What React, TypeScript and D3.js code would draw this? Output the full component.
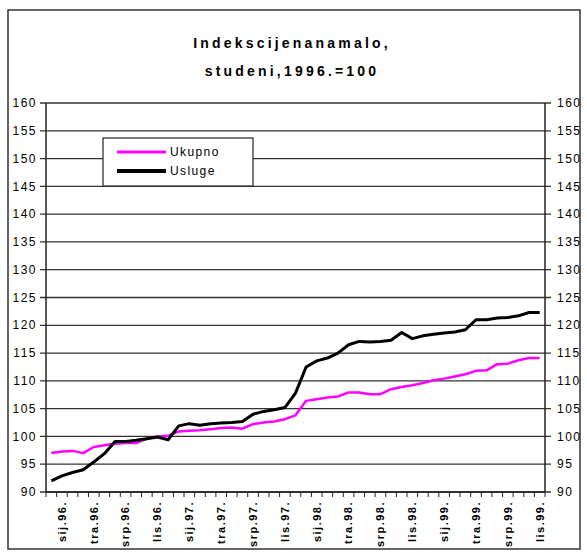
import * as d3 from "d3";

// Mjeseci (kategorije na osi X), prosinac 1995. – listopad 1999.
const MJESECI = [
  "pro.95.",
  "sij.96.", "velj.96.", "ožu.96.", "tra.96.", "svi.96.", "lip.96.", "srp.96.", "kol.96.", "ruj.96.", "lis.96.", "stu.96.", "pro.96.",
  "sij.97.", "velj.97.", "ožu.97.", "tra.97.", "svi.97.", "lip.97.", "srp.97.", "kol.97.", "ruj.97.", "lis.97.", "stu.97.", "pro.97.",
  "sij.98.", "velj.98.", "ožu.98.", "tra.98.", "svi.98.", "lip.98.", "srp.98.", "kol.98.", "ruj.98.", "lis.98.", "stu.98.", "pro.98.",
  "sij.99.", "velj.99.", "ožu.99.", "tra.99.", "svi.99.", "lip.99.", "srp.99.", "kol.99.", "ruj.99.", "lis.99.",
];

// Oznake koje se prikazuju na osi X
const OZNAKE_X = [
  "sij.96.", "tra.96.", "srp.96.", "lis.96.",
  "sij.97.", "tra.97.", "srp.97.", "lis.97.",
  "sij.98.", "tra.98.", "srp.98.", "lis.98.",
  "sij.99.", "tra.99.", "srp.99.", "lis.99.",
];

const UKUPNO = [
  97.0, 97.3, 97.4, 97.0, 98.1, 98.4, 98.7, 98.8, 98.8, 99.6, 100.0, 100.1,
  100.9, 101.0, 101.1, 101.3, 101.5, 101.6, 101.4, 102.2, 102.5, 102.7, 103.1, 103.8,
  106.4, 106.7, 107.0, 107.2, 107.9, 107.9, 107.6, 107.6, 108.5, 108.9, 109.2, 109.6,
  110.1, 110.4, 110.8, 111.2, 111.8, 111.9, 113.0, 113.1, 113.7, 114.1, 114.1,
];

const USLUGE = [
  92.0, 92.9, 93.5, 94.0, 95.4, 96.9, 99.1, 99.1, 99.3, 99.6, 99.9, 99.4,
  101.9, 102.3, 102.0, 102.3, 102.4, 102.5, 102.7, 104.0, 104.5, 104.8, 105.2, 107.8,
  112.5, 113.6, 114.1, 115.0, 116.5, 117.1, 117.0, 117.1, 117.3, 118.7, 117.6, 118.1,
  118.4, 118.6, 118.8, 119.2, 121.0, 121.0, 121.3, 121.4, 121.7, 122.3, 122.3,
];

const Y_TICKS = [90, 95, 100, 105, 110, 115, 120, 125, 130, 135, 140, 145, 150, 155, 160];

const SERIJE = [
  { naziv: "Ukupno", vrijednosti: UKUPNO, boja: "#ff00ff", debljina: 2.5 },
  { naziv: "Usluge", vrijednosti: USLUGE, boja: "#000000", debljina: 3 },
];

const FONT = "'Liberation Sans', Arial, sans-serif";

export default function App() {
  const width = 587;
  const height = 552;
  const plot = { left: 46, right: 545, top: 103, bottom: 492 };

  const x = d3
    .scaleBand<string>()
    .domain(MJESECI)
    .range([plot.left, plot.right])
    .paddingInner(0)
    .paddingOuter(0);
  const y = d3.scaleLinear().domain([90, 160]).range([plot.bottom, plot.top]);
  const cx = (m: string) => (x(m) ?? 0) + x.bandwidth() / 2;

  const linija = d3
    .line<number>()
    .x((_, i) => cx(MJESECI[i]))
    .y((d) => y(d));

  // granice kategorija za male crtice na osi X
  const granice = MJESECI.map((m) => x(m) ?? 0).concat([plot.right]);

  return (
    <svg
      width={width}
      height={height}
      style={{ position: "absolute", left: 0, top: 0, background: "#fff" }}
      fontFamily={FONT}
    >
      <rect x={8} y={10} width={572} height={539} fill="#fff" stroke="#333" strokeWidth={1.5} />

      {/* Naslov */}
      <text x={292} y={48} textAnchor="middle" fontSize={14} fontWeight="bold" letterSpacing={3.2}>
        Indekscijenanamalo,
      </text>
      <text x={292} y={76} textAnchor="middle" fontSize={14} fontWeight="bold" letterSpacing={3.2}>
        studeni,1996.=100
      </text>

      {/* Mreža */}
      {Y_TICKS.map((t) => (
        <g key={t}>
          <line x1={plot.left - 6} x2={plot.right + 6} y1={y(t)} y2={y(t)} stroke="#333" strokeWidth={1.3} />
          <text x={37} y={y(t)} dy="0.35em" textAnchor="end" fontSize={12} letterSpacing={1.5}>
            {t}
          </text>
          <text x={557} y={y(t)} dy="0.35em" textAnchor="start" fontSize={12} letterSpacing={1.5}>
            {t}
          </text>
        </g>
      ))}

      {/* Osi */}
      <line x1={plot.left} x2={plot.left} y1={plot.top} y2={plot.bottom} stroke="#222" strokeWidth={1.5} />
      <line x1={plot.right} x2={plot.right} y1={plot.top} y2={plot.bottom} stroke="#222" strokeWidth={1.5} />
      <line x1={plot.left} x2={plot.right} y1={plot.bottom} y2={plot.bottom} stroke="#222" strokeWidth={1.5} />
      {granice.map((g, i) => (
        <line key={i} x1={g} x2={g} y1={plot.bottom} y2={plot.bottom + 5} stroke="#222" strokeWidth={1} />
      ))}

      {/* Oznake osi X */}
      {OZNAKE_X.map((o) => {
        const px = cx(MJESECI[MJESECI.indexOf(o)]);
        return (
          <text
            key={o}
            transform={`translate(${px},${plot.bottom + 9}) rotate(-90)`}
            dy="0.35em"
            textAnchor="end"
            fontSize={11}
            fontWeight="bold"
            letterSpacing={1.5}
          >
            {o}
          </text>
        );
      })}

      {/* Linije */}
      {SERIJE.map((s) => (
        <path
          key={s.naziv}
          d={linija(s.vrijednosti) ?? ""}
          fill="none"
          stroke={s.boja}
          strokeWidth={s.debljina}
          strokeLinejoin="round"
        />
      ))}

      {/* Legenda */}
      <g>
        <rect x={103} y={138} width={150} height={48} fill="#fff" stroke="#333" strokeWidth={1.3} />
        {SERIJE.map((s, i) => (
          <g key={s.naziv}>
            <line
              x1={117}
              x2={166}
              y1={152 + i * 19}
              y2={152 + i * 19}
              stroke={s.boja}
              strokeWidth={i === 0 ? 3 : 4}
            />
            <text x={170} y={152 + i * 19} dy="0.35em" fontSize={12} letterSpacing={1.4}>
              {s.naziv}
            </text>
          </g>
        ))}
      </g>
    </svg>
  );
}
